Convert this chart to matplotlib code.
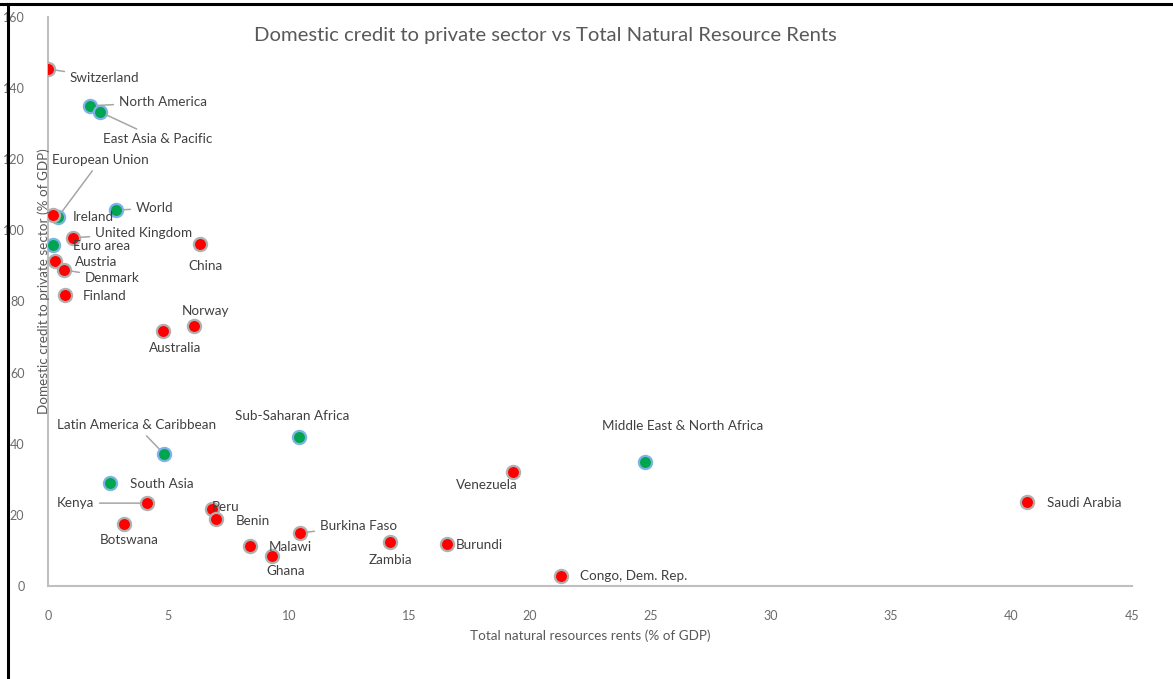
import matplotlib
matplotlib.use("Agg")
import matplotlib.pyplot as plt
from matplotlib.lines import Line2D

plt.rcParams['font.family'] = ['Lato', 'DejaVu Sans']

# ---- data ----
countries = ["Switzerland", "Ireland", "United Kingdom", "China", "Austria", "Denmark",
             "Finland", "Norway", "Australia", "Kenya", "Botswana", "Peru", "Benin",
             "Malawi", "Ghana", "Burkina Faso", "Zambia", "Burundi", "Venezuela",
             "Congo, Dem. Rep.", "Saudi Arabia"]
country_rents = [0.0, 0.21, 1.04, 6.31, 0.29, 0.66, 0.71, 6.06, 4.77, 4.11, 3.16, 6.81, 6.97,
                 8.38, 9.30, 10.46, 14.2, 16.56, 19.3, 21.3, 40.64]
country_credit = [145.4, 104.3, 97.9, 96.2, 91.4, 88.9, 81.8, 73.1, 71.7, 23.3, 17.4, 21.7, 18.8,
                  11.2, 8.4, 14.9, 12.4, 11.8, 32.1, 2.8, 23.6]

regions = ["North America", "East Asia & Pacific", "European Union", "World", "Euro area",
           "Latin America & Caribbean", "Sub-Saharan Africa", "South Asia",
           "Middle East & North Africa"]
region_rents = [1.74, 2.16, 0.42, 2.82, 0.21, 4.82, 10.42, 2.57, 24.78]
region_credit = [135.0, 133.3, 103.8, 105.7, 95.9, 37.1, 41.9, 29.0, 34.9]

x_ticks = [0, 5, 10, 15, 20, 25, 30, 35, 40, 45]
y_ticks = [0, 20, 40, 60, 80, 100, 120, 140, 160]

# label placement: (dx px, dy px, ha, leader)
label_style = {
    "Switzerland": (22, -9, "left", True),
    "North America": (29, 4, "left", True),
    "East Asia & Pacific": (58, -27, "center", True),
    "European Union": (-6, 57, "left", True),
    "Ireland": (20, -2, "left", False),
    "World": (20, 2, "left", True),
    "United Kingdom": (22, 5, "left", True),
    "Euro area": (20, -1, "left", False),
    "China": (5, -22, "center", False),
    "Austria": (20, -1, "left", False),
    "Denmark": (21, -8, "left", True),
    "Finland": (18, -1, "left", False),
    "Norway": (12, 15, "center", False),
    "Australia": (12, -17, "center", False),
    "Latin America & Caribbean": (-28, 29, "center", True),
    "Sub-Saharan Africa": (-7, 21, "center", False),
    "South Asia": (20, -1, "left", False),
    "Kenya": (-53, 0, "right", True),
    "Botswana": (5, -16, "center", False),
    "Peru": (0, 2, "left", False),
    "Benin": (20, -2, "left", False),
    "Malawi": (19, -1, "left", False),
    "Ghana": (14, -15, "center", False),
    "Burkina Faso": (20, 7, "left", True),
    "Zambia": (0, -18, "center", False),
    "Burundi": (9, -1, "left", False),
    "Venezuela": (-26, -13, "center", False),
    "Congo, Dem. Rep.": (19, 0, "left", False),
    "Middle East & North Africa": (38, 36, "center", False),
    "Saudi Arabia": (20, -1, "left", False),
}

fig = plt.figure(figsize=(11.73, 6.79), dpi=100)
ax = fig.add_axes([48 / 1173, 93 / 679, (1132 - 48) / 1173, (586 - 17) / 679])

ax.scatter(region_rents, region_credit, s=90, color="#00a550", edgecolor="#7fb2e5",
           linewidth=1.6, zorder=3)
ax.scatter(country_rents, country_credit, s=90, color="#ff0000", edgecolor="#b0b0b0",
           linewidth=1.6, zorder=4)

text_color = "#404040"
names = regions + countries
xs = region_rents + country_rents
ys = region_credit + country_credit
for n, x, y in zip(names, xs, ys):
    dx, dy, ha, leader = label_style[n]
    kw = {}
    if leader:
        kw["arrowprops"] = dict(arrowstyle="-", color="#a6a6a6", lw=1.1,
                                shrinkA=2, shrinkB=5)
    ax.annotate(n, (x, y), xytext=(dx, dy), textcoords="offset pixels",
                ha=ha, va="center", fontsize=9.7, color=text_color, zorder=5, **kw)

ax.set_xlim(0, 45)
ax.set_ylim(0, 160)
ax.set_xticks(x_ticks)
ax.set_yticks(y_ticks)
ax.tick_params(length=0, labelsize=9, labelcolor="#6b6b6b")
ax.tick_params(axis="x", pad=17)
ax.tick_params(axis="y", pad=17)
for s in ["top", "right"]:
    ax.spines[s].set_visible(False)
for s in ["left", "bottom"]:
    ax.spines[s].set_color("#bfbfbf")
    ax.spines[s].set_linewidth(1.5)

fig.text(590 / 1173, 1 - 636 / 679, "Total natural resources rents (% of GDP)",
         ha="center", va="center", fontsize=9.7, color="#595959")
fig.text(44 / 1173, 1 - 281 / 679, "Domestic credit to private sector (% of GDP)",
         ha="center", va="center", rotation=90, fontsize=9.7, color="#595959", zorder=10)
fig.text(545 / 1173, 1 - 36 / 679, "Domestic credit to private sector vs Total Natural Resource Rents",
         ha="center", va="center", fontsize=14.6, color="#595959")

# image frame (top and left border)
fig.add_artist(Line2D([0, 1], [1 - 4 / 679, 1 - 4 / 679], transform=fig.transFigure,
                      color="black", lw=2.2))
fig.add_artist(Line2D([8 / 1173, 8 / 1173], [0, 1 - 4 / 679], transform=fig.transFigure,
                      color="black", lw=2.2))

fig.savefig("out.png", dpi=100)
